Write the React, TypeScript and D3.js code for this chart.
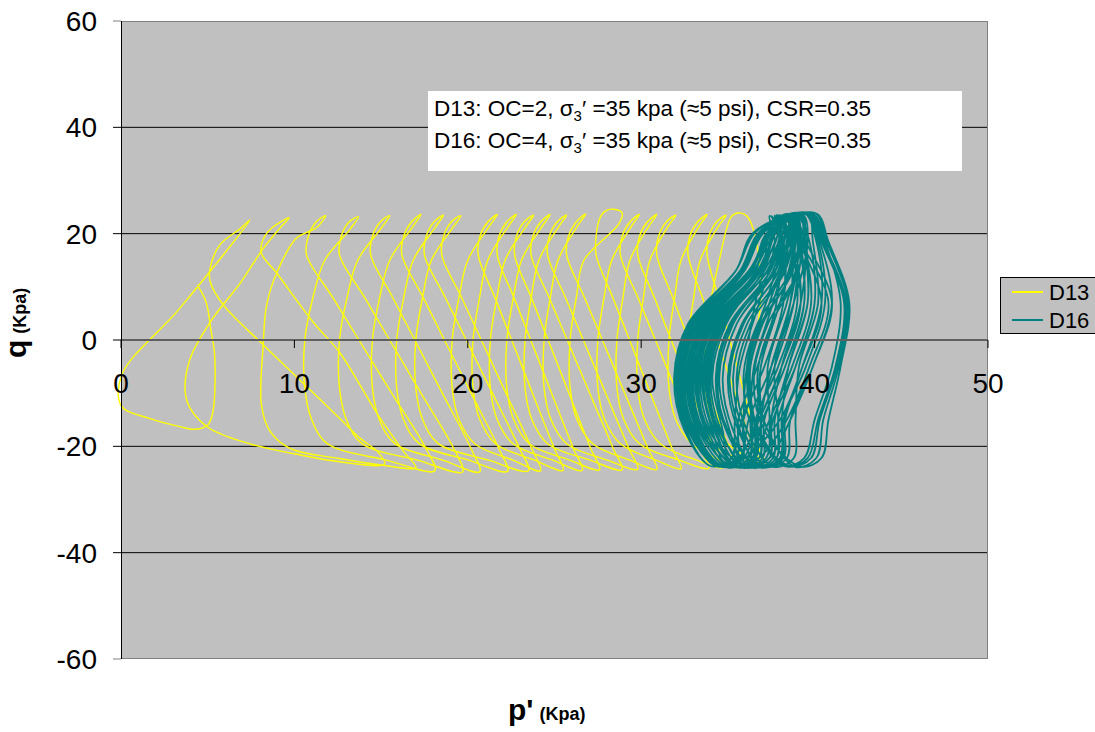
import React from "react";
import * as d3 from "d3";

type Pt = [number, number];

// axis ticks
const xTicks = [0, 10, 20, 30, 40, 50];
const yTicks = [-60, -40, -20, 0, 20, 40, 60];
const gridLines = [-40, -20, 20, 40];

// D13 stress path, one array per cycle (p', q)
const d13Cycles: Pt[][] = [
  [[36.6,0],[36.9,8],[36.8,15],[36.5,20.5],[36.1,23.3],[35.6,23.9],[35.2,23.2],[34.5,15],[34.05,8],[33.7,0],[33.7,-9],[34.1,-15],[35.0,-19.5],[36.45,-22.6],[37.3,-23.8],[36.8,-20.5],[35.94,-10],[35.11,0],[34.46,8],[33.8,16],[33.9,19.5],[34.35,22.2]],
  [[34.9,23.5],[34.4,21.1],[33.4,15],[33.03,8],[32.7,0],[32.7,-9],[33.1,-15],[34.0,-19.5],[35.8,-22.6],[37.0,-23.8],[36.5,-20.5],[35.41,-10],[34.36,0],[33.53,8],[32.7,16],[32.8,19.5],[33.25,22.2]],
  [[33.8,23.6],[33.3,21.2],[32.3,15],[31.93,8],[31.6,0],[31.6,-9],[32.0,-15],[32.9,-19.5],[34.55,-22.6],[35.6,-24.0],[35.1,-20.5],[33.89,-10],[32.74,0],[31.82,8],[30.9,16],[31.0,19.5],[31.45,22.2]],
  [[32.0,23.5],[31.5,21.1],[30.5,15],[30.13,8],[29.8,0],[29.8,-9],[30.2,-15],[31.1,-19.5],[33.2,-22.6],[34.7,-24.0],[34.2,-20.5],[32.93,-10],[31.73,0],[30.76,8],[29.8,16],[29.9,19.5],[30.35,22.2]],
  [[30.9,23.6],[30.4,21.2],[29.35,15],[28.95,8],[28.6,0],[28.6,-9],[29.0,-15],[29.9,-19.5],[32.2,-22.6],[33.9,-24.1],[33.4,-20.5],[32.08,-10],[30.82,0],[29.81,8],[28.8,16],[28.9,19.5],[29.35,22.2]],
  [[29.9,23.6],[29.4,21.2],[28.3,15],[27.86,8],[27.5,0],[27.5,-9],[27.9,-15],[28.8,-19.5],[30.85,-22.6],[32.3,-24.2],[31.8,-20.5],[30.53,-10],[29.33,0],[28.36,8],[27.4,16],[27.4,19.5],[27.6,22.8]],
  [[27.9,24.2],[28.4,24.6],[28.9,23.9],[28.7,21.8],[26.7,15],[26.26,8],[25.9,0],[25.9,-9],[26.3,-15],[27.2,-19.5],[29.35,-22.6],[30.9,-24.3],[30.4,-20.5],[29.05,-10],[27.76,0],[26.73,8],[25.7,16],[25.8,19.5],[26.25,22.2]],
  [[26.8,23.7],[26.3,21.3],[25.2,15],[24.76,8],[24.4,0],[24.4,-9],[24.8,-15],[25.7,-19.5],[28.05,-22.6],[29.8,-24.3],[29.3,-20.5],[27.95,-10],[26.66,0],[25.63,8],[24.6,16],[24.7,19.5],[25.15,22.2]],
  [[25.7,23.5],[25.2,21.1],[24.1,15],[23.66,8],[23.3,0],[23.3,-9],[23.7,-15],[24.6,-19.5],[27.05,-22.6],[28.9,-24.4],[28.4,-20.5],[27.03,-10],[25.73,0],[24.69,8],[23.65,16],[23.75,19.5],[24.2,22.2]],
  [[24.75,23.6],[24.25,21.2],[23.1,15],[22.63,8],[22.25,0],[22.25,-9],[22.65,-15],[23.55,-19.5],[25.88,-22.6],[27.6,-24.4],[27.1,-20.5],[25.83,-10],[24.63,0],[23.66,8],[22.7,16],[22.8,19.5],[23.25,22.2]],
  [[23.8,23.5],[23.3,21.1],[22.15,15],[21.68,8],[21.3,0],[21.3,-9],[21.7,-15],[22.6,-19.5],[24.9,-22.6],[26.6,-24.5],[26.1,-20.5],[24.83,-10],[23.63,0],[22.66,8],[21.7,16],[21.8,19.5],[22.25,22.2]],
  [[22.8,23.6],[22.3,21.2],[21.15,15],[20.68,8],[20.3,0],[20.3,-9],[20.7,-15],[21.6,-19.5],[23.85,-22.6],[25.5,-24.5],[25.0,-20.5],[23.73,-10],[22.53,0],[21.56,8],[20.6,16],[20.7,19.5],[21.15,22.2]],
  [[21.7,23.6],[21.2,21.2],[20.0,15],[19.49,8],[19.1,0],[19.1,-9],[19.5,-15],[20.4,-19.5],[22.6,-22.6],[24.2,-24.6],[23.7,-20.5],[22.2,-10],[20.78,0],[19.64,8],[18.5,16],[18.6,19.5],[19.05,22.2]],
  [[19.6,23.4],[19.1,21.0],[17.9,15],[17.39,8],[17.0,0],[17.0,-9],[17.4,-15],[18.3,-19.5],[21.2,-22.6],[23.5,-24.6],[23.0,-20.5],[21.42,-10],[19.91,0],[18.7,8],[17.5,16],[17.6,19.5],[18.05,22.2]],
  [[18.6,23.5],[18.1,21.1],[16.85,15],[16.31,8],[15.9,0],[15.9,-9],[16.3,-15],[17.2,-19.5],[20.05,-22.6],[22.3,-24.7],[21.8,-20.5],[20.19,-10],[18.65,0],[17.43,8],[16.2,16],[16.3,19.5],[16.75,22.2]],
  [[17.3,23.6],[16.8,21.2],[15.5,15],[14.92,8],[14.5,0],[14.5,-9],[14.9,-15],[15.8,-19.5],[18.55,-22.6],[20.7,-24.8],[20.2,-20.5],[18.53,-10],[16.94,0],[15.67,8],[14.4,16],[14.5,19.5],[14.95,22.2]],
  [[15.5,23.4],[15.0,21.0],[13.65,15],[13.04,8],[12.6,0],[12.6,-9],[13.0,-15],[13.9,-19.5],[17.1,-22.6],[19.7,-24.8],[19.2,-20.5],[17.3,-10],[15.49,0],[14.05,8],[12.6,16],[12.7,19.5],[13.15,22.2]],
  [[13.7,23.2],[13.2,20.8],[11.75,15],[11.07,8],[10.6,0],[10.6,-9],[11.0,-15],[11.9,-19.5],[15.3,-22.6],[18.1,-24.6],[17.6,-20.5],[15.61,-10],[13.72,0],[12.21,8],[10.7,16],[10.8,19.5],[11.25,22.2]],
  [[11.8,23.4],[11.3,21.2],[10.1,19.1],[9.0,12.8],[8.4,6.6],[8.2,-0.9],[8.1,-12.2],[8.6,-17.2],[9.75,-20.4],[12.6,-22.3],[15.2,-23.6],[17.0,-24.0],[16.3,-21],[14.8,-14],[13.7,-8],[12.6,-2.3],[11.1,3.3],[9.0,12.5],[8.1,16.3],[8.15,18.5],[8.6,20.8]],
  [[9.7,23.0],[9.1,20.8],[8.2,17.2],[6.9,10.8],[5.3,4.1],[4.0,-3.4],[3.7,-9.7],[4.0,-12.9],[5.1,-16.6],[7.5,-19.6],[10.0,-21.4],[12.6,-22.9],[15.2,-23.3],[14.8,-21],[13.8,-18.5],[12.6,-14.7],[10.4,-7.8],[8.2,-0.9],[5.9,6.6],[5.14,11],[5.14,13.5],[5.7,17.9],[6.9,21]],
  [[7.44,22.6],[3.4,6.0],[0.05,-6.5],[0.02,-12.4],[1.6,-14.7],[3.4,-16.3],[4.3,-16.8],[5.0,-16.0],[5.3,-13.5],[5.4,-2.8],[5.2,1.6],[4.9,7.2],[4.4,10.3]],
];

// D16 stress path, one array per loop
const d16Loops: Pt[][] = [
  [[36.2,0],[36.8,10],[37.8,19]],
  [[38.6,23.6],[39.3,18.5],[39.8,7],[38.7,-5],[37.4,-15],[36.4,-22.2],[35.2,-23.9],[33.5,-17],[32.9,-7],[33.7,3],[36.5,13],[37.7,20.3]],
  [[38.9,23.8],[39.2,18.5],[38.4,7],[37.3,-5],[37.4,-15],[37.2,-22.2],[36.0,-23.9],[35.1,-17],[34.5,-7],[35.3,3],[37.45,13],[38.0,20.3]],
  [[37.8,23.5],[38.5,18.5],[39.2,7],[38.1,-5],[36.8,-15],[35.6,-22.2],[34.4,-23.8],[32.7,-17],[32.1,-7],[32.9,3],[35.7,13],[36.9,20.3]],
  [[39.6,23.9],[40.3,18.5],[41.0,7],[39.9,-5],[38.6,-15],[38.4,-22.2],[37.2,-23.8],[35.9,-17],[35.3,-7],[36.1,3],[38.2,13],[38.7,20.3]],
  [[38.2,23.5],[38.5,18.5],[37.4,7],[36.3,-5],[36.4,-15],[36.2,-22.2],[35.0,-23.9],[34.1,-17],[33.5,-7],[34.3,3],[36.6,13],[37.3,20.3]],
  [[38.4,23.7],[39.1,18.5],[40.4,7],[39.3,-5],[38.0,-15],[36.0,-22.2],[34.8,-23.9],[33.1,-17],[32.5,-7],[33.3,3],[36.2,13],[37.5,20.3]],
  [[39.2,23.7],[39.5,18.5],[39.2,7],[38.1,-5],[37.5,-15],[37.4,-22.2],[36.2,-23.9],[34.5,-17],[33.9,-7],[34.7,3],[37.3,13],[38.3,20.3]],
  [[37.4,23.3],[37.7,18.5],[36.8,7],[35.7,-5],[35.4,-15],[35.2,-22.2],[34.0,-23.7],[32.6,-17],[32.0,-7],[32.8,3],[35.45,13],[36.5,20.3]],
  [[39.8,23.7],[40.5,18.5],[41.8,7],[41.3,-5],[40.3,-15],[39.8,-22.2],[38.6,-23.7],[36.5,-17],[35.9,-7],[36.7,3],[38.6,13],[38.9,20.3]],
  [[38.7,23.8],[39.0,18.5],[38.8,7],[37.7,-5],[36.7,-15],[36.6,-22.2],[35.4,-23.9],[33.8,-17],[33.2,-7],[34.0,3],[36.7,13],[37.8,20.3]],
  [[39.0,23.7],[39.7,18.5],[40.0,7],[38.9,-5],[37.9,-15],[37.8,-22.2],[36.6,-23.9],[35.3,-17],[34.7,-7],[35.5,3],[37.6,13],[38.1,20.3]],
  [[37.9,23.5],[38.2,18.5],[38.2,7],[37.1,-5],[35.9,-15],[35.8,-22.2],[34.6,-23.8],[32.9,-17],[32.3,-7],[33.1,3],[35.85,13],[37.0,20.3]],
  [[38.4,23.5],[38.7,18.5],[37.2,7],[36.1,-5],[36.5,-15],[36.4,-22.2],[35.2,-23.8],[34.7,-17],[34.1,-7],[34.9,3],[37.0,13],[37.5,20.3]],
  [[40.1,23.8],[40.8,18.5],[42.0,7],[41.5,-5],[40.8,-15],[40.4,-22.2],[39.2,-23.8],[37.1,-17],[36.5,-7],[37.3,3],[39.05,13],[39.2,20.3]],
  [[38.3,23.6],[39.0,18.5],[39.4,7],[38.3,-5],[37.0,-15],[36.2,-22.2],[35.0,-24.0],[33.3,-17],[32.7,-7],[33.5,3],[36.25,13],[37.4,20.3]],
  [[39.4,23.8],[40.1,18.5],[40.4,7],[39.3,-5],[38.3,-15],[38.2,-22.2],[37.0,-23.9],[35.6,-17],[35.0,-7],[35.8,3],[37.95,13],[38.5,20.3]],
  [[38.8,23.7],[39.1,18.5],[38.6,7],[37.5,-5],[36.9,-15],[36.8,-22.2],[35.6,-24.0],[34.0,-17],[33.4,-7],[34.2,3],[36.85,13],[37.9,20.3]],
  [[37.7,23.4],[38.0,18.5],[37.8,7],[36.7,-5],[35.6,-15],[35.5,-22.2],[34.3,-23.7],[32.8,-17],[32.2,-7],[33.0,3],[35.7,13],[36.8,20.3]],
  [[39.1,23.6],[39.4,18.5],[39.6,7],[38.5,-5],[37.7,-15],[37.6,-22.2],[36.4,-24.0],[34.9,-17],[34.3,-7],[35.1,3],[37.45,13],[38.2,20.3]],
  [[38.5,23.6],[39.2,18.5],[40.8,7],[39.7,-5],[38.4,-15],[36.8,-22.2],[35.6,-23.9],[33.6,-17],[33.0,-7],[33.8,3],[36.5,13],[37.6,20.3]],
  [[39.9,23.7],[40.6,18.5],[41.5,7],[41.0,-5],[40.0,-15],[39.4,-22.2],[38.2,-23.7],[36.7,-17],[36.1,-7],[36.9,3],[38.75,13],[39.0,20.3]],
  [[38.6,23.7],[38.9,18.5],[38.0,7],[36.9,-5],[36.7,-15],[36.6,-22.2],[35.4,-23.9],[34.3,-17],[33.7,-7],[34.5,3],[36.9,13],[37.7,20.3]],
  [[38.0,23.5],[38.7,18.5],[39.2,7],[38.1,-5],[36.8,-15],[35.9,-22.2],[34.7,-23.8],[33.0,-17],[32.4,-7],[33.2,3],[35.95,13],[37.1,20.3]],
  [[39.6,23.8],[39.9,18.5],[40.2,7],[39.1,-5],[38.9,-15],[38.8,-22.2],[37.6,-23.8],[36.1,-17],[35.5,-7],[36.3,3],[38.3,13],[38.7,20.3]],
  [[38.2,23.5],[38.5,18.5],[37.6,7],[36.5,-5],[36.3,-15],[36.2,-22.2],[35.0,-23.8],[33.7,-17],[33.1,-7],[33.9,3],[36.4,13],[37.3,20.3]],
  [[40.0,23.9],[40.7,18.5],[41.9,7],[41.4,-5],[40.5,-15],[40.1,-22.2],[38.9,-23.9],[37.3,-17],[36.7,-7],[37.5,3],[39.1,13],[39.1,20.3]],
  [[39.0,23.7],[39.7,18.5],[40.0,7],[38.9,-5],[37.6,-15],[37.2,-22.2],[36.0,-24.0],[34.6,-17],[34.0,-7],[34.8,3],[37.25,13],[38.1,20.3]],
  [[37.9,23.5],[38.6,18.5],[38.6,7],[37.5,-5],[36.2,-15],[35.7,-22.2],[34.5,-23.8],[32.8,-17],[32.2,-7],[33.0,3],[35.8,13],[37.0,20.3]],
  [[39.3,23.6],[39.6,18.5],[38.8,7],[37.7,-5],[37.9,-15],[37.8,-22.2],[36.6,-23.9],[35.3,-17],[34.7,-7],[35.5,3],[37.75,13],[38.4,20.3]],
  [[38.8,23.8],[39.5,18.5],[41.0,7],[39.9,-5],[38.6,-15],[37.4,-22.2],[36.2,-24.0],[33.9,-17],[33.3,-7],[34.1,3],[36.8,13],[37.9,20.3]],
  [[37.8,23.4],[38.1,18.5],[37.2,7],[36.1,-5],[35.9,-15],[35.8,-22.2],[34.6,-23.8],[33.2,-17],[32.6,-7],[33.4,3],[35.95,13],[36.9,20.3]],
  [[39.7,23.8],[40.4,18.5],[41.7,7],[41.2,-5],[40.2,-15],[39.6,-22.2],[38.4,-23.8],[36.8,-17],[36.2,-7],[37.0,3],[38.7,13],[38.8,20.3]],
  [[38.9,23.7],[39.2,18.5],[39.4,7],[38.3,-5],[37.1,-15],[37.0,-22.2],[35.8,-24.0],[34.4,-17],[33.8,-7],[34.6,3],[37.1,13],[38.0,20.3]],
  [[37.5,23.3],[38.2,18.5],[38.2,7],[37.1,-5],[35.8,-15],[35.2,-22.2],[34.0,-23.7],[32.5,-17],[31.9,-7],[32.7,3],[35.45,13],[36.6,20.3]],
  [[39.2,23.8],[39.5,18.5],[39.6,7],[38.5,-5],[38.1,-15],[38.0,-22.2],[36.8,-23.9],[35.7,-17],[35.1,-7],[35.9,3],[37.9,13],[38.3,20.3]],
  [[38.4,23.6],[38.7,18.5],[39.0,7],[37.9,-5],[36.6,-15],[36.5,-22.2],[35.3,-23.9],[33.4,-17],[32.8,-7],[33.6,3],[36.35,13],[37.5,20.3]],
  [[39.5,23.8],[40.2,18.5],[40.6,7],[39.5,-5],[38.2,-15],[38.1,-22.2],[36.9,-24.0],[35.0,-17],[34.4,-7],[35.2,3],[37.7,13],[38.6,20.3]],
  [[38.5,23.6],[38.8,18.5],[38.0,7],[36.9,-5],[36.9,-15],[36.8,-22.2],[35.6,-23.9],[34.2,-17],[33.6,-7],[34.4,3],[36.8,13],[37.6,20.3]],
];

const series = [
  { name: "D13", color: "#FFFF00", width: 1.4, cycles: d13Cycles },
  { name: "D16", color: "#008080", width: 1.8, cycles: d16Loops },
];

const font = "'Liberation Sans', Arial, sans-serif";

export default function App() {
  const W = 1095;
  const H = 732;
  const left = 121, right = 988, top = 21, bottom = 659;

  const xScale = d3.scaleLinear().domain([0, 50]).range([left, right]);
  const yScale = d3.scaleLinear().domain([-60, 60]).range([bottom, top]);

  const line = d3
    .line<Pt>()
    .x((d) => xScale(d[0]))
    .y((d) => yScale(d[1]))
    .curve(d3.curveCatmullRom.alpha(0.5));

  return (
    <div style={{ position: "absolute", left: 0, top: 0 }}>
      <svg width={W} height={H} style={{ display: "block", fontFamily: font }}>
        <rect x={0} y={0} width={W} height={H} fill="#fff" />
        {/* plot area */}
        <rect x={left} y={top} width={right - left} height={bottom - top} fill="#C0C0C0" />
        {gridLines.map((v) => (
          <line key={v} x1={left} x2={right} y1={yScale(v)} y2={yScale(v)} stroke="#000" strokeWidth={1} />
        ))}
        <line x1={left} x2={right} y1={top + 0.5} y2={top + 0.5} stroke="#808080" />
        <line x1={left} x2={right} y1={bottom - 0.5} y2={bottom - 0.5} stroke="#808080" />
        <line x1={right - 0.5} x2={right - 0.5} y1={top} y2={bottom} stroke="#808080" />

        {/* data */}
        {series.map((s) => (
          <path
            key={s.name}
            d={line(s.cycles.flat()) || ""}
            fill="none"
            stroke={s.color}
            strokeWidth={s.width}
            strokeLinejoin="round"
          />
        ))}

        {/* x axis at q = 0 */}
        <line x1={left} x2={right} y1={yScale(0)} y2={yScale(0)} stroke="#606060" strokeWidth={2} />
        {xTicks.map((t) => (
          <line key={t} x1={xScale(t)} x2={xScale(t)} y1={yScale(0)} y2={yScale(0) + 8} stroke="#000" />
        ))}
        {xTicks.map((t) => (
          <text key={t} x={xScale(t)} y={yScale(0) + 53} textAnchor="middle" fontSize={28} fill="#000">
            {t}
          </text>
        ))}

        {/* y axis */}
        <line x1={left + 0.5} x2={left + 0.5} y1={top} y2={bottom} stroke="#000" />
        {yTicks.map((t) => (
          <line key={t} x1={left - 8} x2={left} y1={yScale(t)} y2={yScale(t)} stroke={t === 60 || t === -60 ? "#808080" : "#000"} />
        ))}
        {yTicks.map((t) => (
          <text key={t} x={97} y={yScale(t) + 10} textAnchor="end" fontSize={28} fill="#000">
            {t}
          </text>
        ))}

        {/* annotation box */}
        <rect x={428} y={91} width={534} height={80} fill="#fff" />
        <text x={434} y={116} fontSize={22.5} fill="#000">
          D13: OC=2, σ<tspan fontSize={15} dy={5}>3</tspan>
          <tspan dy={-5}>′ =35 kpa (≈5 psi), CSR=0.35</tspan>
        </text>
        <text x={434} y={148} fontSize={22.5} fill="#000">
          D16: OC=4, σ<tspan fontSize={15} dy={5}>3</tspan>
          <tspan dy={-5}>′ =35 kpa (≈5 psi), CSR=0.35</tspan>
        </text>

        {/* legend */}
        <rect x={1000.5} y={277.5} width={110} height={56} fill="#C0C0C0" stroke="#000" />
        {series.map((s, i) => (
          <g key={s.name}>
            <line x1={1012} x2={1043} y1={292 + i * 28} y2={292 + i * 28} stroke={s.color} strokeWidth={2} />
            <text x={1049} y={300 + i * 28} fontSize={22} fill="#000">
              {s.name}
            </text>
          </g>
        ))}

        {/* axis titles */}
        <text x={508} y={720} fontWeight="bold" fontSize={30} fill="#000">
          p'<tspan fontSize={18} dx={6}>(Kpa)</tspan>
        </text>
        <text transform="translate(26,358) rotate(-90)" fontWeight="bold" fontSize={30} fill="#000">
          q<tspan fontSize={18} dx={6}>(Kpa)</tspan>
        </text>
      </svg>
    </div>
  );
}
